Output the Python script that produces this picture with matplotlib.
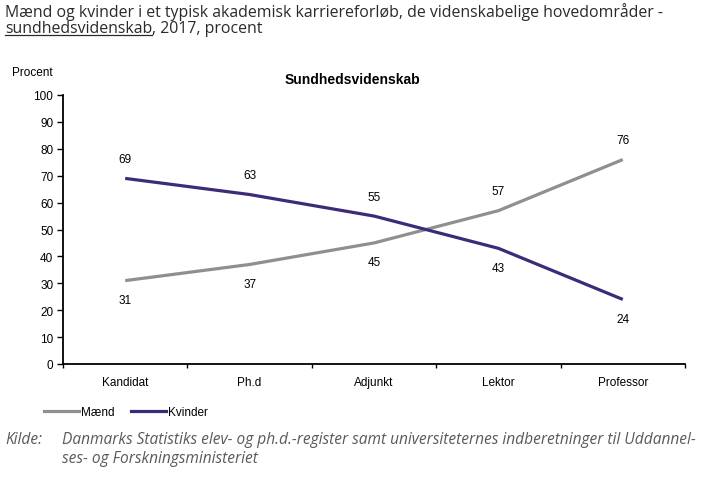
import matplotlib
matplotlib.use("Agg")
import matplotlib.pyplot as plt
from matplotlib.lines import Line2D

# data
categories = ["Kandidat", "Ph.d", "Adjunkt", "Lektor", "Professor"]
maend = [31, 37, 45, 57, 76]
kvinder = [69, 63, 55, 43, 24]
y_ticks = list(range(0, 101, 10))

GREY = "#8f8f8f"
PURPLE = "#3d2b7a"
CHART_FONT = "Liberation Sans"
TEXT_FONT = "Open Sans"

fig = plt.figure(figsize=(7.03, 4.85), dpi=100)
ax = fig.add_axes([63 / 703, 1 - 365 / 485, (685 - 63) / 703, (365 - 96) / 485])

x = list(range(len(categories)))
ax.plot(x, maend, color=GREY, lw=2.3, solid_capstyle="butt", label="Mænd")
ax.plot(x, kvinder, color=PURPLE, lw=2.3, solid_capstyle="butt", label="Kvinder")

# data labels: higher value above, lower value below
for i, (m, k) in enumerate(zip(maend, kvinder)):
    for v, other in ((m, k), (k, m)):
        dy = 14 if v > other else -14
        ax.annotate(str(v), (i, v), xytext=(0, dy), textcoords="offset points",
                    ha="center", va="center", fontsize=8.5, family=CHART_FONT)

ax.set_xlim(-0.5, len(categories) - 0.5)
ax.set_ylim(0, 100)
ax.set_yticks(y_ticks)
ax.set_xticks(x)
ax.set_xticklabels(categories, family=CHART_FONT, fontsize=8.5)
ax.set_xticks([i + 0.5 for i in range(-1, len(categories))], minor=True)
ax.tick_params(axis="x", which="major", length=0, pad=9)
ax.tick_params(axis="x", which="minor", length=3, direction="out", width=1)
ax.tick_params(axis="y", length=4, width=1, direction="out", pad=3)
for lbl in ax.get_yticklabels():
    lbl.set_family(CHART_FONT)
    lbl.set_fontsize(8.5)

for s in ("top", "right"):
    ax.spines[s].set_visible(False)
for s in ("left", "bottom"):
    ax.spines[s].set_linewidth(1.3)
    ax.spines[s].set_color("black")

fig.text(352 / 703, 1 - 80 / 485, "Sundhedsvidenskab", ha="center", va="center",
         fontsize=10, fontweight="bold", family=CHART_FONT)
fig.text(12 / 703, 1 - 73 / 485, "Procent", ha="left", va="center",
         fontsize=8.5, family=CHART_FONT)

fig.canvas.draw()
renderer = fig.canvas.get_renderer()


def fit_text(xpx, ypx, s, right_px, **kw):
    # shrink/grow font so the line ends where the reference's does
    t = fig.text(xpx / 703, 1 - ypx / 485, s, **kw)
    w = t.get_window_extent(renderer).width
    t.set_fontsize(t.get_fontsize() * (right_px - xpx) / w)
    return t


# heading with underlined word
head_kw = dict(ha="left", va="center", fontsize=10.5, family=TEXT_FONT, color="#2a2a2a")
h1 = fit_text(5, 12,
              "Mænd og kvinder i et typisk akademisk karriereforløb, de videnskabelige hovedområder -",
              664, **head_kw)
head_kw["fontsize"] = h1.get_fontsize()
word = fig.text(5 / 703, 1 - 29 / 485, "sundhedsvidenskab", **head_kw)
fig.canvas.draw()
bb = word.get_window_extent(renderer).transformed(fig.transFigure.inverted())
fig.add_artist(Line2D([bb.x0, bb.x1], [bb.y0 + 0.003, bb.y0 + 0.003],
                      transform=fig.transFigure, color="#2a2a2a", lw=0.9))
fig.text(bb.x1, 1 - 29 / 485, ", 2017, procent", **head_kw)

# legend
handles = [Line2D([], [], color=GREY, lw=2.3), Line2D([], [], color=PURPLE, lw=2.3)]
fig.legend(handles, ["Mænd", "Kvinder"], loc="center left",
           bbox_to_anchor=(33 / 703, 1 - 413 / 485), ncol=2, frameon=False,
           handlelength=3.0, handletextpad=0.15, columnspacing=1.4,
           prop={"family": CHART_FONT, "size": 8.5})

# source
src_kw = dict(ha="left", va="center", fontsize=10, family=TEXT_FONT,
              style="italic", color="#5a5a5a")
s1 = fit_text(62, 440,
              "Danmarks Statistiks elev- og ph.d.-register samt universiteternes indberetninger til Uddannel-",
              697, **src_kw)
src_kw["fontsize"] = s1.get_fontsize()
fig.text(5 / 703, 1 - 440 / 485, "Kilde:", **src_kw)
fig.text(62 / 703, 1 - 459 / 485, "ses- og Forskningsministeriet", **src_kw)

fig.savefig("out.png", dpi=100)
